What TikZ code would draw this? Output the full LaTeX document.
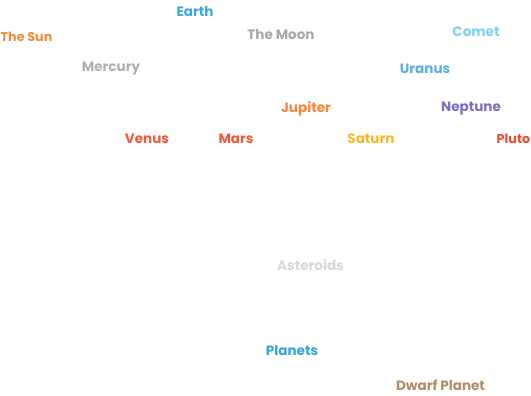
\documentclass[tikz,border=0pt]{standalone}
\usepackage{fontspec}
\setmainfont{Poppins}
\definecolor{cearth}{HTML}{3BA9E0}
\definecolor{csun}{HTML}{F58A3C}
\definecolor{cmoon}{HTML}{A8A8A8}
\definecolor{ccomet}{HTML}{7FD0F5}
\definecolor{cmerc}{HTML}{B0B0B0}
\definecolor{curanus}{HTML}{5AAEE0}
\definecolor{cjup}{HTML}{F5873C}
\definecolor{cnep}{HTML}{7B6FC0}
\definecolor{cvenus}{HTML}{EE5A3C}
\definecolor{cmars}{HTML}{EE5A3C}
\definecolor{csat}{HTML}{FBB829}
\definecolor{cpluto}{HTML}{EE4B32}
\definecolor{cast}{HTML}{D8D8D8}
\definecolor{cplan}{HTML}{33A6E0}
\definecolor{cdwarf}{HTML}{B08E6A}
\begin{document}
\begin{tikzpicture}[x=1bp,y=-1bp,
  lbl/.style={inner sep=0pt,font=\fontsize{13.6}{14}\selectfont\bfseries}]
\useasboundingbox[fill=white] (0,0) rectangle (531,395);
\node[lbl,text=cearth] (earth) at (195,12) {Earth};
\node[lbl,text=csun,anchor=west,font=\fontsize{12.8}{14}\selectfont\bfseries] (sun) at (0.5,37) {The Sun};
\node[lbl,text=cmoon] (moon) at (281,35) {The Moon};
\node[lbl,text=ccomet] (comet) at (476,32) {Comet};
\node[lbl,text=cmerc] (mercury) at (111,69) {Mercury};
\node[lbl,text=curanus] (uranus) at (425,69) {Uranus};
\node[lbl,text=cjup] (jupiter) at (306,109) {Jupiter};
\node[lbl,text=cnep] (neptune) at (471,109) {Neptune};
\node[lbl,text=cvenus] (venus) at (147,139) {Venus};
\node[lbl,text=cmars] (mars) at (236,139) {Mars};
\node[lbl,text=csat] (saturn) at (371,139) {Saturn};
\node[lbl,text=cpluto,anchor=east,font=\fontsize{12.8}{14}\selectfont\bfseries] (pluto) at (530.5,139) {Pluto};
\node[lbl,text=cast] (asteroids) at (310.5,265) {Asteroids};
\node[lbl,text=cplan] (planets) at (292,351) {Planets};
\node[lbl,text=cdwarf] (dwarf) at (440.5,385) {Dwarf Planet};
\end{tikzpicture}
\end{document}
